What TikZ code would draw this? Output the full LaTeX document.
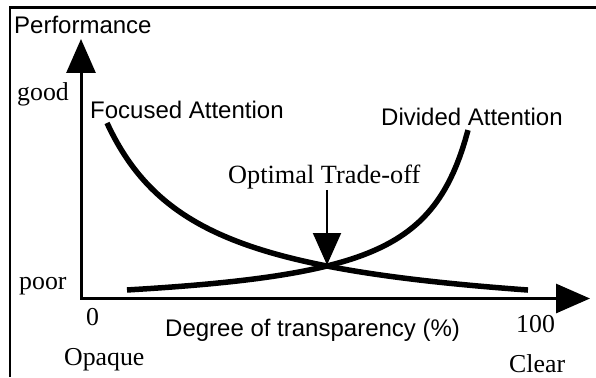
\documentclass[tikz,border=0pt]{standalone}
\usepackage{fontspec}
\setmainfont{Liberation Serif}
\setsansfont{Liberation Sans}
\usetikzlibrary{arrows.meta}
\tikzset{
  sanslbl/.style={inner sep=0pt, anchor=base west, font=\sffamily\fontsize{24}{28}\selectfont},
  seriflbl/.style={inner sep=0pt, anchor=base west, font=\rmfamily\fontsize{25.8}{30}\selectfont},
  axisline/.style={line width=3pt, {Triangle[length=34pt,width=29pt]}-{Triangle[length=34pt,width=29pt]}},
  curveline/.style={line width=5.5pt},
  pointer/.style={line width=2pt, -{Triangle[length=32pt,width=28pt]}},
  framebar/.style={line width=2.6pt}
}
\begin{document}
\begin{tikzpicture}[x=1pt,y=-1pt]
\useasboundingbox (0,0) rectangle (596,377);
% frame (left and top edges)
\coordinate (fbl) at (10,377);
\coordinate (ftl) at (10,7.5);
\coordinate (ftr) at (596,7.5);
\draw[framebar] (fbl) -- (ftl) -- (ftr);
% axes
\coordinate (O) at (81,298.5);
\coordinate (ytip) at (81,39);
\coordinate (xtip) at (590,298.5);
\draw[axisline] (ytip) -- (O) -- (xtip);
% curves
\draw[curveline] plot[domain=107:528, samples=120] (\x, {327.6 - 193.78/((\x-12.3)/100)});
\draw[curveline] plot[domain=127:468, samples=120] (\x, {312.7 - 88.56/((516.5-\x)/100)});
% labels
\node[sanslbl] (perf) at (14,33.5) {Performance};
\node[seriflbl] (good) at (17,101) {good};
\node[seriflbl] (poor) at (19,289) {poor};
\node[sanslbl] (focus) at (90,118.5) {Focused Attention};
\node[sanslbl] (divid) at (381,125) {Divided Attention};
\node[seriflbl, font=\rmfamily\fontsize{26.3}{30}\selectfont] (opt) at (228,183) {Optimal Trade-off};
\node[seriflbl] (zero) at (86,325) {0};
\node[sanslbl] (deg) at (165,336) {Degree of transparency (\%)};
\node[seriflbl] (hund) at (516,332) {100};
\node[seriflbl] (opq) at (64,365) {Opaque};
\node[seriflbl] (clr) at (509,372.5) {Clear};
% trade-off pointer
\coordinate (X) at (327,265);
\draw[pointer] (X |- opt.south) ++(0,1) -- (X);
\end{tikzpicture}
\end{document}
